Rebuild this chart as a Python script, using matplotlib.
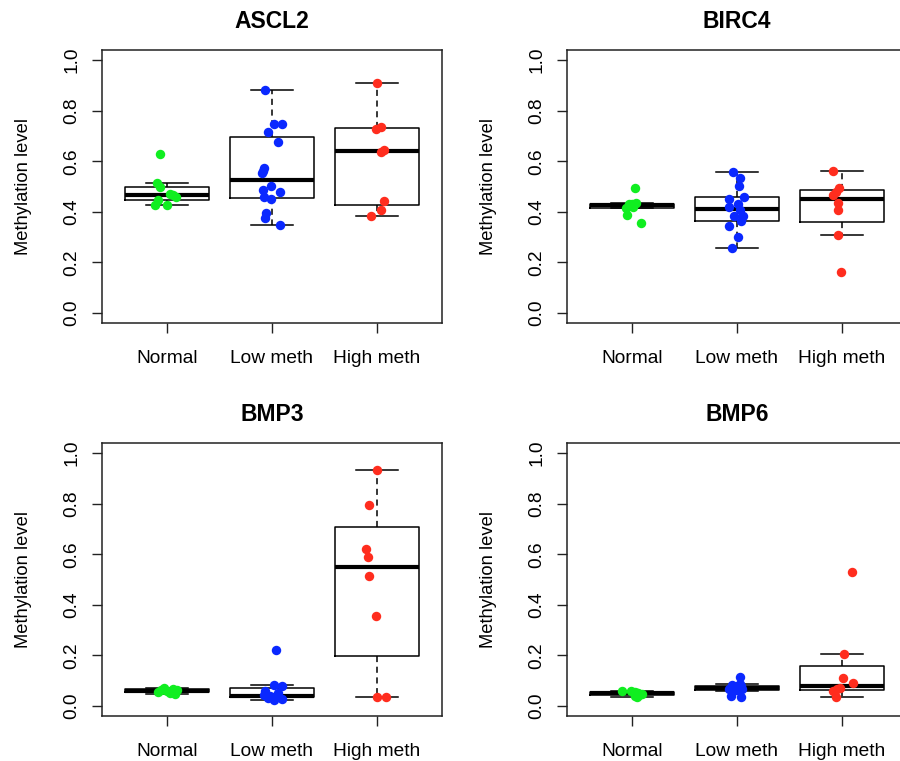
import matplotlib
matplotlib.use('Agg')
import matplotlib.pyplot as plt
import numpy as np

plt.rcParams['font.family'] = ['Liberation Sans', 'DejaVu Sans']

groups = ['Normal', 'Low meth', 'High meth']
genes = ['ASCL2', 'BIRC4', 'BMP3', 'BMP6']
colors = ['#10EE20', '#0A28FF', '#FF2D1E']
yticks = [0.0, 0.2, 0.4, 0.6, 0.8, 1.0]
ytick_labels = ['0.0', '0.2', '0.4', '0.6', '0.8', '1.0']

# ---- ASCL2 ----
ascl2_normal = [0.630, 0.515, 0.499, 0.471, 0.467, 0.458, 0.447, 0.426, 0.426]
ascl2_normal_jit = [-0.063, -0.095, -0.063, 0.032, 0.060, 0.089, -0.086, -0.111, 0.0]
ascl2_low = [0.882, 0.746, 0.746, 0.717, 0.675, 0.574, 0.560, 0.554, 0.501, 0.488,
             0.477, 0.459, 0.451, 0.396, 0.376, 0.349]
ascl2_low_jit = [-0.070, 0.016, 0.095, -0.041, 0.054, -0.079, -0.090, -0.095, -0.006, -0.086,
                 0.079, -0.073, -0.006, -0.057, -0.063, 0.079]
ascl2_high = [0.910, 0.735, 0.726, 0.643, 0.636, 0.444, 0.409, 0.382]
ascl2_high_jit = [0.003, 0.035, -0.006, 0.063, 0.035, 0.063, 0.035, -0.060]

# ---- BIRC4 ----
birc4_normal = [0.495, 0.435, 0.432, 0.429, 0.425, 0.420, 0.415, 0.386, 0.357]
birc4_normal_jit = [0.032, 0.041, 0.000, -0.032, -0.020, 0.010, -0.057, -0.048, 0.089]
birc4_low = [0.557, 0.534, 0.501, 0.460, 0.451, 0.429, 0.419, 0.406, 0.385, 0.382,
             0.365, 0.342, 0.299, 0.257]
birc4_low_jit = [-0.038, 0.032, 0.016, 0.063, -0.079, 0.010, -0.073, 0.032, -0.032, 0.054,
                 0.038, -0.079, 0.010, -0.048]
birc4_high = [0.561, 0.494, 0.478, 0.468, 0.433, 0.409, 0.307, 0.160]
birc4_high_jit = [-0.083, -0.032, -0.054, -0.086, -0.038, -0.038, -0.038, -0.006]

# ---- BMP3 ----
bmp3_normal = [0.070, 0.066, 0.064, 0.062, 0.058, 0.056, 0.052, 0.048]
bmp3_normal_jit = [-0.030, 0.060, -0.060, 0.090, 0.000, -0.090, 0.030, 0.080]
bmp3_low = [0.222, 0.083, 0.078, 0.060, 0.050, 0.042, 0.040, 0.038, 0.035, 0.032,
            0.028, 0.025]
bmp3_low_jit = [0.041, 0.022, 0.098, -0.063, 0.060, -0.079, -0.016, 0.048, 0.016, -0.040,
                0.095, 0.016]
bmp3_high = [0.932, 0.793, 0.622, 0.590, 0.512, 0.354, 0.037, 0.037]
bmp3_high_jit = [0.003, -0.076, -0.102, -0.089, -0.076, -0.006, 0.000, 0.083]

# ---- BMP6 ----
bmp6_normal = [0.060, 0.058, 0.055, 0.052, 0.050, 0.047, 0.044, 0.040, 0.035]
bmp6_normal_jit = [-0.095, -0.010, 0.030, 0.060, 0.048, 0.095, 0.070, 0.032, 0.045]
bmp6_low = [0.116, 0.085, 0.082, 0.079, 0.077, 0.075, 0.073, 0.070, 0.067, 0.065,
            0.063, 0.060, 0.038, 0.036]
bmp6_low_jit = [0.025, 0.030, -0.048, 0.000, 0.040, -0.030, 0.020, -0.060, 0.050, -0.079,
                0.000, -0.040, -0.057, 0.038]
bmp6_high = [0.531, 0.207, 0.112, 0.090, 0.070, 0.065, 0.057, 0.037]
bmp6_high_jit = [0.093, 0.016, 0.013, 0.102, -0.022, -0.050, -0.086, -0.054]

panel_values = [
    [ascl2_normal, ascl2_low, ascl2_high],
    [birc4_normal, birc4_low, birc4_high],
    [bmp3_normal, bmp3_low, bmp3_high],
    [bmp6_normal, bmp6_low, bmp6_high],
]
panel_jitter = [
    [ascl2_normal_jit, ascl2_low_jit, ascl2_high_jit],
    [birc4_normal_jit, birc4_low_jit, birc4_high_jit],
    [bmp3_normal_jit, bmp3_low_jit, bmp3_high_jit],
    [bmp6_normal_jit, bmp6_low_jit, bmp6_high_jit],
]


def r_box_stats(vals):
    """R-style boxplot.stats (Tukey hinges, coef 1.5)."""
    x = np.sort(np.asarray(vals, dtype=float))
    n = len(x)
    n4 = np.floor((n + 3) / 2) / 2
    d = np.array([1, n4, (n + 1) / 2, n + 1 - n4, n])
    fn = 0.5 * (x[np.floor(d).astype(int) - 1] + x[np.ceil(d).astype(int) - 1])
    q1, med, q3 = fn[1], fn[2], fn[3]
    iqr = q3 - q1
    lo_f, hi_f = q1 - 1.5 * iqr, q3 + 1.5 * iqr
    inside = x[(x >= lo_f) & (x <= hi_f)]
    return dict(med=med, q1=q1, q3=q3, whislo=inside.min(), whishi=inside.max(), fliers=[])


fig = plt.figure(figsize=(9.0, 7.61), dpi=100)
W, H = 900.0, 761.0
lefts = [102 / W, 567 / W]
bottoms = [1 - 323 / H, 1 - 716 / H]
aw, ah = 340 / W, 273 / H

for k, gene in enumerate(genes):
    r, c = divmod(k, 2)
    ax = fig.add_axes([lefts[c], bottoms[r], aw, ah])
    stats = [r_box_stats(v) for v in panel_values[k]]
    ax.bxp(stats, positions=[1, 2, 3], widths=0.8, capwidths=0.4, showfliers=False,
           boxprops=dict(color='black', lw=1.1),
           whiskerprops=dict(color='black', lw=1.1, linestyle=(0, (4, 3))),
           capprops=dict(color='black', lw=1.1),
           medianprops=dict(color='black', lw=3.0, solid_capstyle='butt'))
    for g in range(3):
        xs = np.array(panel_jitter[k][g]) + (g + 1)
        ax.plot(xs, panel_values[k][g], 'o', ms=6.8, color=colors[g], mec='none', zorder=4)

    ax.set_xlim(0.38, 3.62)
    ax.set_ylim(-0.04, 1.04)
    ax.set_xticks([1, 2, 3])
    ax.set_xticklabels(groups)
    ax.set_yticks(yticks)
    ax.set_yticklabels(ytick_labels, rotation=90, va='center')
    ax.tick_params(axis='both', direction='out', length=7.5, width=1.0, labelsize=13.8,
                   color='#222222')
    ax.tick_params(axis='y', pad=8)
    ax.tick_params(axis='x', pad=12)
    for s in ax.spines.values():
        s.set_linewidth(1.1)
        s.set_color('#222222')
    ax.set_ylabel('Methylation level', fontsize=13.2)
    ax.yaxis.set_label_coords(-0.206, 0.5)
    ax.set_title(gene, fontsize=16.5, fontweight='bold', pad=15.5)

fig.savefig('out.png', dpi=100)
